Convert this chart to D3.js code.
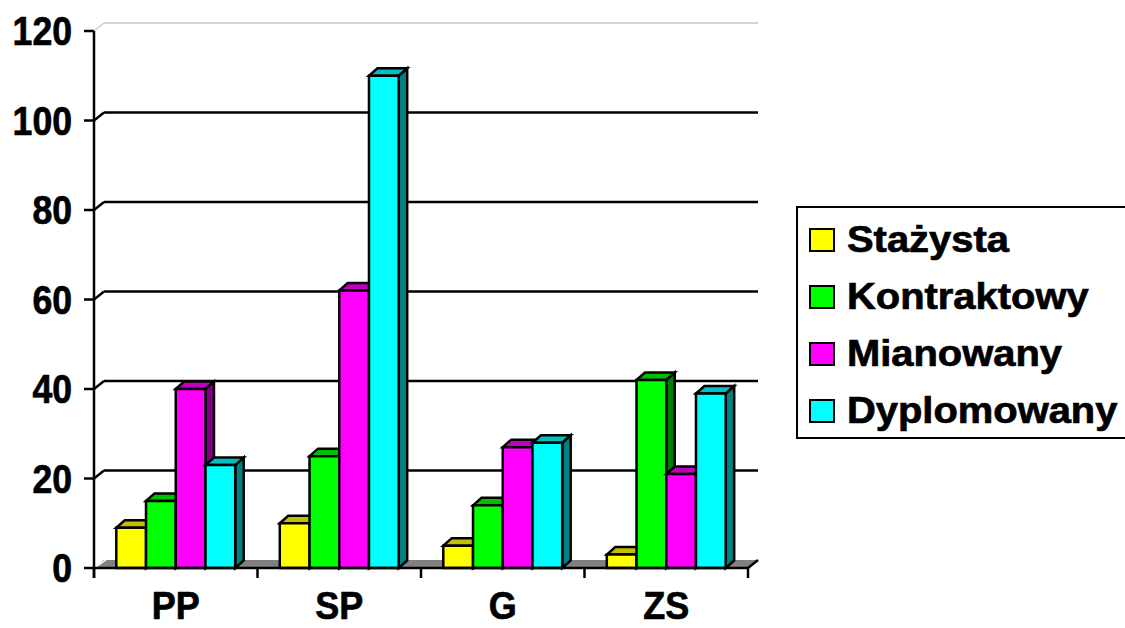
<!DOCTYPE html>
<html>
  <head>
    <meta charset="utf-8">
    <title>Nauczyciele wg stopnia awansu</title>
    <style>
      body {
        margin: 0;
        background: #fff;
        overflow: hidden;
      }

      text {
        font-family: "Liberation Sans", Arial, sans-serif;
        font-weight: bold;
        fill: #000;
        stroke: #000;
        stroke-width: 0.7px;
      }

      .grid line {
        stroke: #000;
        stroke-width: 2.5px;
      }

      .axis line {
        stroke: #000;
        stroke-width: 2.5px;
      }

      .bar path {
        stroke: #000;
        stroke-width: 2.5px;
        stroke-linejoin: miter;
      }
    </style>
  </head>
  <body>
    <svg width="1125" height="628"></svg>
  </body>
  <script src="https://d3js.org/d3.v7.min.js"></script>
  <script>
    // data
    const categories = ['PP', 'SP', 'G', 'ZS'];
    const seriesNames = ['Stażysta', 'Kontraktowy', 'Mianowany', 'Dyplomowany'];
    const stazysta = [9, 10, 5, 3];
    const kontraktowy = [15, 25, 14, 42];
    const mianowany = [40, 62, 27, 21];
    const dyplomowany = [23, 110, 28, 39];
    const yTicks = [0, 20, 40, 60, 80, 100, 120];

    const frontColors = ['#ffff00', '#00ff00', '#ff00ff', '#00ffff'];
    const topColors = ['#c0c000', '#00c000', '#c000c0', '#00c0c0'];
    const sideColors = ['#808000', '#008000', '#800080', '#008080'];

    const seriesValues = [stazysta, kontraktowy, mianowany, dyplomowany];

    const svg = d3.select('svg');

    // 3d offsets: back wall and bar depth
    const wdx = 10, wdy = -8;
    const bdx = 8.5, bdy = -7.5;

    const y = d3.scaleLinear().domain([0, 120]).range([568, 31]);
    const x0 = d3.scaleBand().domain(categories).range([94, 748]).padding(0);
    const x1 = d3.scaleBand()
      .domain(seriesNames)
      .range([0, x0.bandwidth()])
      .paddingInner(0)
      .paddingOuter(0.75);

    const xL = x0.range()[0], xR = x0.range()[1];

    // floor
    svg.append('polygon')
      .attr('points', [[xL, y(0)], [xR, y(0)], [xR + wdx, y(0) + wdy], [xL + wdx, y(0) + wdy]].join(' '))
      .attr('fill', '#808080');
    svg.append('line')
      .attr('x1', xL + 2).attr('y1', y(0) - 1)
      .attr('x2', xL + wdx + 2).attr('y2', y(0) + wdy)
      .attr('stroke', '#fff').attr('stroke-width', 1.5);

    // back wall gridlines
    const grid = svg.append('g').attr('class', 'grid');
    grid.selectAll('line.h')
      .data(yTicks.filter(d => d > 0))
      .join('line')
      .attr('class', 'h')
      .attr('x1', xL + wdx).attr('x2', xR + wdx)
      .attr('y1', d => y(d) + wdy).attr('y2', d => y(d) + wdy)
      .style('stroke', d => d === 120 ? '#c8c8c8' : '#000')
      .style('stroke-width', d => d === 120 ? 1.5 : 2.5);
    grid.selectAll('line.d')
      .data(yTicks.filter(d => d > 0))
      .join('line')
      .attr('class', 'd')
      .attr('x1', xL).attr('x2', xL + wdx)
      .attr('y1', d => y(d)).attr('y2', d => y(d) + wdy)
      .style('stroke', d => d === 120 ? '#c8c8c8' : '#000')
      .style('stroke-width', d => d === 120 ? 1.5 : 2.5);

    // bars, drawn left to right so each front hides the previous side
    const bars = [];
    categories.forEach((c, ci) => {
      seriesNames.forEach((s, si) => {
        bars.push({ cat: c, name: s, si: si, value: seriesValues[si][ci] });
      });
    });

    const barG = svg.append('g')
      .selectAll('g.bar')
      .data(bars)
      .join('g')
      .attr('class', 'bar');

    function geom(d) {
      const x = x0(d.cat) + x1(d.name);
      const w = x1.bandwidth();
      return { x: x, w: w, t: y(d.value), b: y(0) };
    }

    barG.append('path')
      .attr('fill', d => sideColors[d.si])
      .attr('d', d => {
        const g = geom(d);
        return 'M' + (g.x + g.w) + ',' + g.b +
          'L' + (g.x + g.w + bdx) + ',' + (g.b + bdy) +
          'L' + (g.x + g.w + bdx) + ',' + (g.t + bdy) +
          'L' + (g.x + g.w) + ',' + g.t + 'Z';
      });
    barG.append('path')
      .attr('fill', d => topColors[d.si])
      .attr('d', d => {
        const g = geom(d);
        return 'M' + g.x + ',' + g.t +
          'L' + (g.x + bdx) + ',' + (g.t + bdy) +
          'L' + (g.x + g.w + bdx) + ',' + (g.t + bdy) +
          'L' + (g.x + g.w) + ',' + g.t + 'Z';
      });
    barG.append('path')
      .attr('fill', d => frontColors[d.si])
      .attr('d', d => {
        const g = geom(d);
        return 'M' + g.x + ',' + g.b + 'V' + g.t + 'H' + (g.x + g.w) + 'V' + g.b + 'Z';
      });

    // axes
    const axis = svg.append('g').attr('class', 'axis');
    axis.append('line')
      .attr('x1', xL).attr('x2', xL)
      .attr('y1', y(120)).attr('y2', y(0) + 10);
    axis.selectAll('line.ytick')
      .data(yTicks)
      .join('line')
      .attr('class', 'ytick')
      .attr('x1', xL - 10).attr('x2', xL)
      .attr('y1', d => y(d)).attr('y2', d => y(d));
    axis.append('line')
      .attr('x1', xL).attr('x2', xR)
      .attr('y1', y(0)).attr('y2', y(0));
    axis.selectAll('line.xtick')
      .data(categories.map(c => x0(c)).concat([xR]))
      .join('line')
      .attr('class', 'xtick')
      .attr('x1', d => d).attr('x2', d => d)
      .attr('y1', y(0)).attr('y2', y(0) + 10);
    axis.append('line')
      .attr('x1', xR).attr('y1', y(0))
      .attr('x2', xR + wdx).attr('y2', y(0) + wdy);

    // tick labels
    svg.append('g')
      .selectAll('text')
      .data(yTicks)
      .join('text')
      .attr('transform', d => 'translate(72,' + y(d) + ') scale(0.89,1)')
      .attr('text-anchor', 'end')
      .attr('dy', '0.36em')
      .style('font-size', '40px')
      .text(d => d);

    svg.append('g')
      .selectAll('text')
      .data(categories)
      .join('text')
      .attr('transform', d => 'translate(' + (x0(d) + x0.bandwidth() / 2) + ',619) scale(0.935,1)')
      .attr('text-anchor', 'middle')
      .style('font-size', '38.5px')
      .text(d => d);

    // legend
    const legend = svg.append('g');
    legend.append('rect')
      .attr('x', 797).attr('y', 207)
      .attr('width', 345).attr('height', 231)
      .attr('fill', '#fff')
      .attr('stroke', '#000')
      .attr('stroke-width', 2);

    const rows = legend.selectAll('g.row')
      .data(seriesNames)
      .join('g')
      .attr('class', 'row')
      .attr('transform', (d, i) => 'translate(0,' + (252 + i * 57) + ')');
    rows.append('rect')
      .attr('x', 810).attr('y', -23)
      .attr('width', 24).attr('height', 22)
      .attr('fill', (d, i) => frontColors[i])
      .attr('stroke', '#000')
      .attr('stroke-width', 2);
    rows.append('text')
      .attr('transform', 'translate(847,0) scale(1.07,1)')
      .style('font-size', '37.3px')
      .text(d => d);
  </script>
</html>
